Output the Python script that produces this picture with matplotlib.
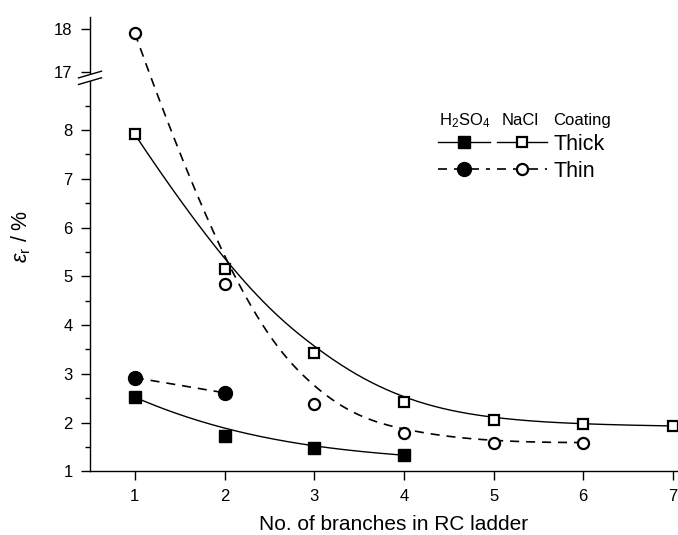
import numpy as np
import matplotlib
matplotlib.use("Agg")
import matplotlib.pyplot as plt
from matplotlib.lines import Line2D
from matplotlib.ticker import FixedLocator

plt.rcParams['font.family'] = ['Liberation Sans', 'DejaVu Sans']
plt.rcParams['mathtext.fontset'] = 'custom'
plt.rcParams['mathtext.rm'] = 'Liberation Sans'
plt.rcParams['mathtext.it'] = 'Liberation Sans:italic'
plt.rcParams['lines.scale_dashes'] = False

# ---------------- data ----------------
x_thick_nacl = [1, 2, 3, 4, 5, 6, 7]
y_thick_nacl = [7.91, 5.15, 3.42, 2.43, 2.05, 1.96, 1.93]
x_thin_nacl = [1, 2, 3, 4, 5, 6]
y_thin_nacl = [17.9, 4.85, 2.38, 1.79, 1.59, 1.59]
x_thick_h2so4 = [1, 2, 3, 4]
y_thick_h2so4 = [2.52, 1.72, 1.47, 1.33]
x_thin_h2so4 = [1, 2]
y_thin_h2so4 = [2.92, 2.61]

x_ticks = [1, 2, 3, 4, 5, 6, 7]
y_ticks = [1, 2, 3, 4, 5, 6, 7, 8, 17, 18]
y_minor = [1.5, 2.5, 3.5, 4.5, 5.5, 6.5, 7.5, 8.5]

# ---------------- broken y scale ----------------
B1, B2 = 9.07, 16.86       # break from B1 (lower) to B2 (upper)
G = 0.001                  # compression inside the break
R = 0.875                  # upper segment scale relative to lower
YMIN, YMAX = 1.0, 18.28


def fwd(y):
    y = np.asarray(y, dtype=float)
    return np.where(y <= B1, y,
                    np.where(y < B2, B1 + (y - B1) * G,
                             B1 + (B2 - B1) * G + (y - B2) * R))


def inv(t):
    t = np.asarray(t, dtype=float)
    t1 = B1
    t2 = B1 + (B2 - B1) * G
    return np.where(t <= t1, t,
                    np.where(t < t2, B1 + (t - t1) / G,
                             B2 + (t - t2) / R))


def bspline(xs, ys, k=3, num=400):
    """Clamped B-spline with data points as control points (drawn in the
    linear display space of the broken axis)."""
    P = np.column_stack([np.asarray(xs, float), fwd(ys)])
    n = len(P)
    k = min(k, n - 1)
    inner = np.linspace(0, 1, n - k + 1)
    t = np.concatenate([np.zeros(k), inner, np.ones(k)])
    u = np.linspace(0, 1, num)
    m = len(t) - 1
    B = np.zeros((num, m))
    for i in range(m):
        B[:, i] = (t[i] <= u) & (u < t[i + 1])
    last = max(i for i in range(m) if t[i] < t[i + 1])
    B[u >= 1.0, last] = 1.0
    for p in range(1, k + 1):
        Bn = np.zeros((num, m - p))
        for i in range(m - p):
            a = 0.0
            d1 = t[i + p] - t[i]
            d2 = t[i + p + 1] - t[i + 1]
            if d1 > 0:
                a = (u - t[i]) / d1 * B[:, i]
            b = 0.0
            if d2 > 0:
                b = (t[i + p + 1] - u) / d2 * B[:, i + 1]
            Bn[:, i] = a + b
        B = Bn
    C = B @ P
    return C[:, 0], inv(C[:, 1])


W, H = 678, 535
fig = plt.figure(figsize=(W / 100, H / 100), dpi=100)
ax_left, ax_bottom = 90 / W, (H - 471.3) / H
ax_w, ax_h = 627.7 / W, 454.4 / H
ax = fig.add_axes([ax_left, ax_bottom, ax_w, ax_h])
ax.set_yscale('function', functions=(fwd, inv))
ax.set_xlim(0.5, 7.5)
ax.set_ylim(YMIN, YMAX)

solid = dict(color='black', lw=1.0, ls='-')
dashed = dict(color='black', lw=1.2, ls=(0, (6.5, 5)))

cx, cy = bspline(x_thick_nacl, y_thick_nacl)
ax.plot(cx, cy, **solid)
cx, cy = bspline(x_thick_h2so4, y_thick_h2so4)
ax.plot(cx, cy, **solid)
cx, cy = bspline(x_thin_nacl, y_thin_nacl)
ax.plot(cx, cy, **dashed)
cx, cy = bspline(x_thin_h2so4, y_thin_h2so4)
ax.plot(cx, cy, **dashed)

sq_open = dict(marker='s', ms=7.5, mfc='white', mec='black', mew=1.6, ls='none', zorder=4)
sq_fill = dict(marker='s', ms=9, mfc='black', mec='black', mew=1.0, ls='none', zorder=4)
ci_open = dict(marker='o', ms=8, mfc='white', mec='black', mew=1.6, ls='none', zorder=4)
ci_fill = dict(marker='o', ms=10, mfc='black', mec='black', mew=1.0, ls='none', zorder=4)

ax.plot(x_thick_nacl, y_thick_nacl, clip_on=False, **sq_open)
ax.plot(x_thick_h2so4, y_thick_h2so4, clip_on=False, **sq_fill)
ax.plot(x_thin_nacl, y_thin_nacl, clip_on=False, **ci_open)
ax.plot(x_thin_h2so4, y_thin_h2so4, clip_on=False, **ci_fill)

# axes styling
for s in ['top', 'right']:
    ax.spines[s].set_visible(False)
for s in ['left', 'bottom']:
    ax.spines[s].set_linewidth(1.0)
ax.xaxis.set_major_locator(FixedLocator(x_ticks))
ax.yaxis.set_major_locator(FixedLocator(y_ticks))
ax.yaxis.set_minor_locator(FixedLocator(y_minor))
ax.set_xticklabels([str(v) for v in x_ticks])
ax.set_yticklabels([str(v) for v in y_ticks])
ax.tick_params(axis='both', which='major', direction='out', length=6.5, width=1.0,
               labelsize=12, pad=6)
ax.tick_params(axis='y', which='minor', direction='out', length=3.6, width=1.0)
ax.tick_params(axis='x', which='minor', length=0)

ax.set_xlabel('No. of branches in RC ladder', fontsize=15)
ax.xaxis.set_label_coords((394 - 90) / 627.7, (471.3 - 529.5) / 454.4)
ax.xaxis.label.set_verticalalignment('baseline')
ax.set_ylabel(r'$\varepsilon_{\rm r}$ / %', fontsize=15.5)
ax.yaxis.set_label_coords((27 - 90) / 627.7, (471.3 - 236.5) / 454.4)
ax.yaxis.label.set_verticalalignment('baseline')

# break marks on the y axis
yb = (float(fwd(B1)) - float(fwd(YMIN))) / (float(fwd(YMAX)) - float(fwd(YMIN)))
pxw, pxh = 627.7, 454.4
dxs, dys, sep = 11.5 / pxw, 3.35 / pxh, 6.6 / pxh
ax.plot([0, 0], [yb - sep / 2, yb + sep / 2], transform=ax.transAxes,
        color='white', lw=3, clip_on=False, zorder=5, solid_capstyle='butt')
for off in (-sep / 2, sep / 2):
    ax.plot([-dxs, dxs], [yb + off - dys, yb + off + dys], transform=ax.transAxes,
            color='black', lw=1.0, clip_on=False, zorder=6)


# ---------------- legend (drawn manually) ----------------
def fx(p):
    return p / W


def fy(p):
    return 1 - p / H


fig.text(fx(439), fy(125), r'H$_2$SO$_4$', fontsize=12, va='baseline', ha='left')
fig.text(fx(502), fy(125), 'NaCl', fontsize=12, va='baseline', ha='left')
fig.text(fx(553), fy(125), 'Coating', fontsize=12, va='baseline', ha='left')

rows = [(141.7, solid, sq_fill, sq_open, 'Thick'), (169.3, dashed, ci_fill, ci_open, 'Thin')]
for ypx, lst, mfill, mopen, lab in rows:
    for (x0, x1, mk) in ((438, 490, mfill), (497, 547, mopen)):
        fig.add_artist(Line2D([fx(x0), fx(x1)], [fy(ypx), fy(ypx)], **lst))
        mk2 = dict(mk)
        mk2.pop('ls')
        fig.add_artist(Line2D([fx((x0 + x1) / 2)], [fy(ypx)], ls='none', **mk2))
    fig.text(fx(554), fy(ypx), lab, fontsize=15.5, va='center_baseline', ha='left')

fig.savefig('out.png', dpi=100)
